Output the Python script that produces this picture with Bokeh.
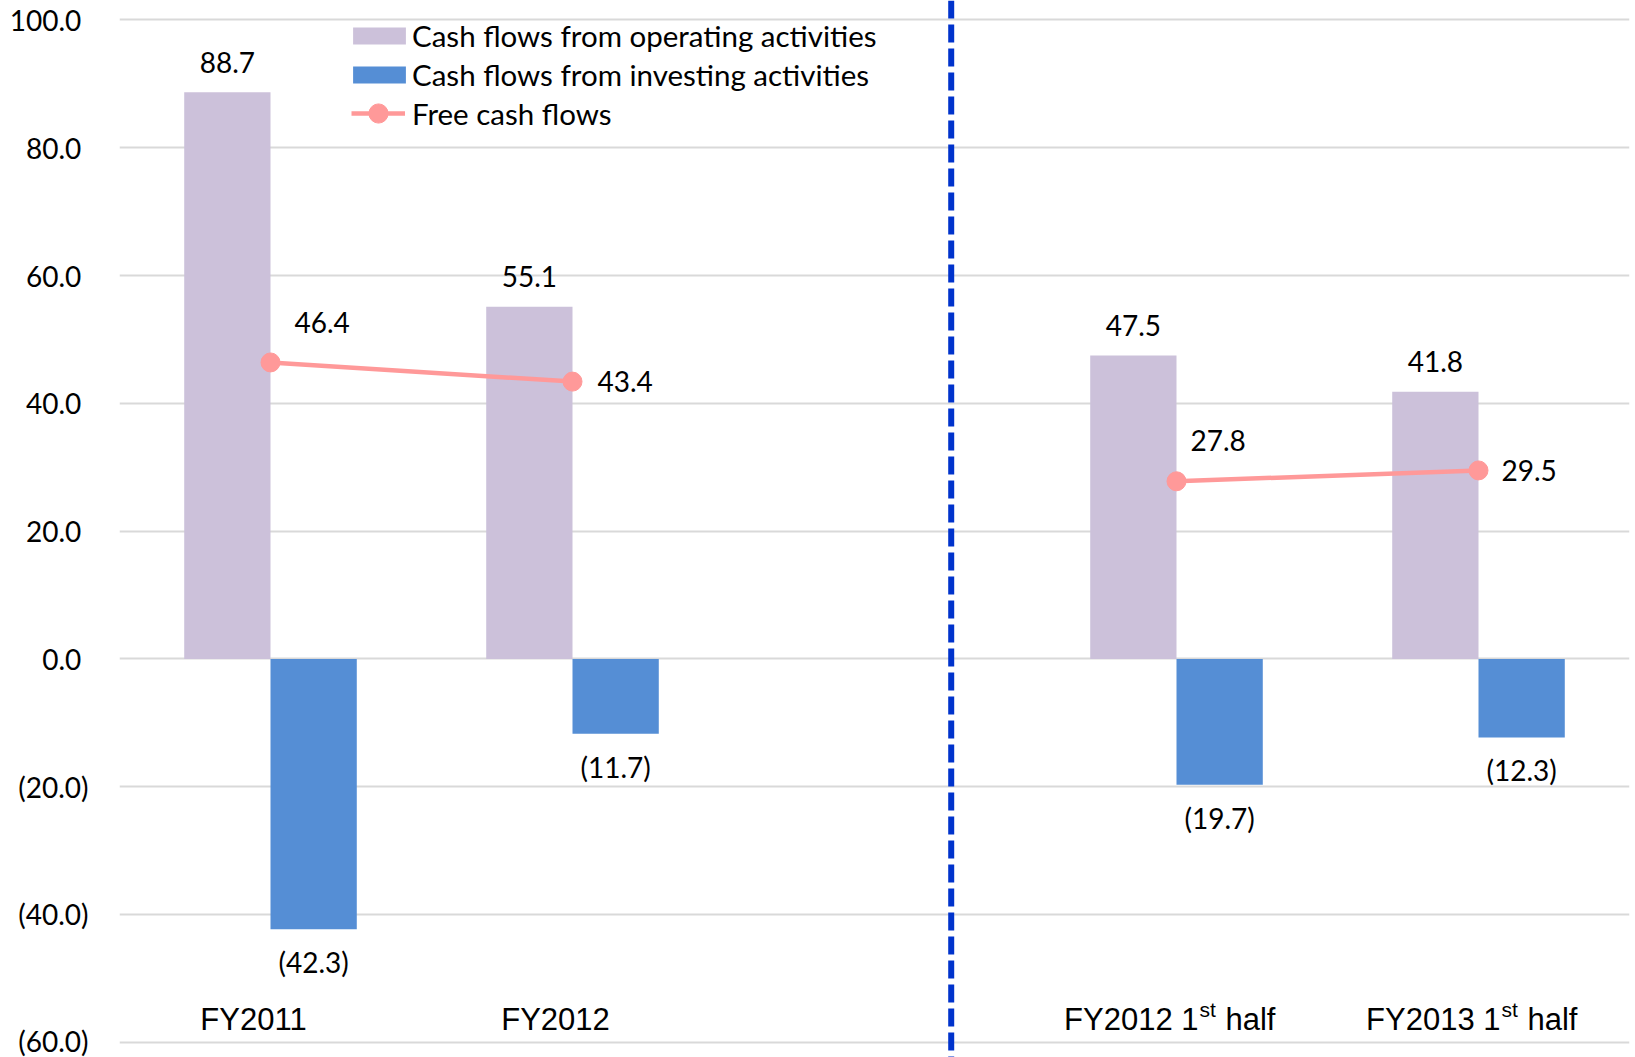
from bokeh.plotting import figure
from bokeh.models import (ColumnDataSource, FactorRange, Range1d, Span, Legend, LegendItem,
                          FixedTicker, CustomJSTickFormatter)
from bokeh.transform import dodge
from bokeh.core.properties import value
from bokeh.embed import file_html
from bokeh.resources import INLINE

# ---- data ----
categories = ["FY2011", "FY2012", "FY2012 1st half", "FY2013 1st half"]
operating = [88.7, 55.1, 47.5, 41.8]
investing = [-42.3, -11.7, -19.7, -12.3]
free_cf = [46.4, 43.4, 27.8, 29.5]
y_ticks = [-60, -40, -20, 0, 20, 40, 60, 80, 100]

# label placement styling (pixels)
fcf_dx = [24, 25, 14, 23]
fcf_dy = [-40, 0, -41, 0]

GAP = "\u2009"
factors = categories[:2] + [GAP] + categories[2:]


def fmt(v):
    return f"({abs(v):.1f})" if v < 0 else f"{v:.1f}"


W, H = 1635, 1057
p = figure(width=W, height=H,
           x_range=FactorRange(factors=factors),
           y_range=Range1d(-62.39, 103.05),
           output_backend="svg", toolbar_location=None, x_axis_location=None,
           min_border_left=119, min_border_right=6, min_border_top=0, min_border_bottom=0)
p.outline_line_color = None
p.background_fill_color = "white"
p.border_fill_color = "white"
p.xgrid.visible = False

ticker = FixedTicker(ticks=y_ticks)
p.yaxis.ticker = ticker
p.ygrid.ticker = ticker
p.ygrid.grid_line_color = "#D9D9D9"
p.ygrid.grid_line_width = 2
p.yaxis.axis_line_color = None
p.yaxis.major_tick_line_color = None
p.yaxis.minor_tick_line_color = None
p.yaxis.major_tick_out = 0
p.yaxis.major_tick_in = 0
p.yaxis.minor_tick_out = 0
p.yaxis.major_label_standoff = 31
p.yaxis.major_label_text_font = "Lato"
p.yaxis.major_label_text_font_size = "28px"
p.yaxis.major_label_text_color = "black"
p.yaxis.formatter = CustomJSTickFormatter(code="""
return tick < 0 ? '(' + Math.abs(tick).toFixed(1) + ')' : tick.toFixed(1) + '\\u00a0';
""")

src = ColumnDataSource(dict(
    cat=categories, op=operating, inv=investing, fcf=free_cf,
    op_lbl=[fmt(v) for v in operating],
    inv_lbl=[fmt(v) for v in investing],
    fcf_lbl=[fmt(v) for v in free_cf],
    fcf_dx=fcf_dx, fcf_dy=fcf_dy,
))

bw = 1 / 3.5
r_op = p.vbar(x=dodge("cat", -bw / 2, range=p.x_range), top="op", bottom=0, width=bw,
              source=src, fill_color="#CCC1DA", line_color=None)
r_inv = p.vbar(x=dodge("cat", bw / 2, range=p.x_range), top="inv", bottom=0, width=bw,
               source=src, fill_color="#558ED5", line_color=None)

PINK = "#FF9999"
line_rs = []
for a, b in [(0, 2), (2, 4)]:
    s = ColumnDataSource(dict(cat=categories[a:b], fcf=free_cf[a:b]))
    line_rs.append(p.line(x="cat", y="fcf", source=s, line_color=PINK, line_width=4.5))
r_pts = p.scatter(x="cat", y="fcf", source=src, size=19, fill_color=PINK, line_color=PINK)

lbl_font = dict(text_font=value("Lato"), text_font_size="28px", text_color="black")
p.text(x=dodge("cat", -bw / 2, range=p.x_range), y="op", text="op_lbl", y_offset=-30,
       text_align="center", text_baseline="middle", source=src, **lbl_font)
p.text(x=dodge("cat", bw / 2, range=p.x_range), y="inv", text="inv_lbl", y_offset=33,
       text_align="center", text_baseline="middle", source=src, **lbl_font)
p.text(x="cat", y="fcf", text="fcf_lbl", x_offset="fcf_dx", y_offset="fcf_dy",
       text_align="left", text_baseline="middle", source=src, **lbl_font)

# category labels
cat_font = dict(text_font=value("Liberation Sans"), text_color="black")
plain = [c for c in categories if "1st" not in c]
sup = [c for c in categories if "1st" in c]
y_base = [y_ticks[0]] * len(plain)
p.text(x=plain, y=y_base, text=plain, x_offset=-17, y_offset=-23,
       text_align="center", text_baseline="alphabetic", text_font_size="31px", **cat_font)
ys = [y_ticks[0]] * len(sup)
main_parts = [c.split("st ")[0] for c in sup]
tail_parts = [c.split("st ")[1] for c in sup]
p.text(x=sup, y=ys, text=main_parts, x_offset=22, y_offset=-23,
       text_align="right", text_baseline="alphabetic", text_font_size="31px", **cat_font)
p.text(x=sup, y=ys, text=["st"] * len(sup), x_offset=23, y_offset=-33,
       text_align="left", text_baseline="alphabetic", text_font_size="21px", **cat_font)
p.text(x=sup, y=ys, text=tail_parts, x_offset=49, y_offset=-23,
       text_align="left", text_baseline="alphabetic", text_font_size="31px", **cat_font)

# divider
p.add_layout(Span(location=2.754, dimension="height", line_color="#0033CC",
                  line_width=6, line_dash="18 6"))

leg_style = dict(padding=0, margin=0, border_line_color=None, background_fill_alpha=0,
                 label_text_font="Lato", label_text_font_size="29.5px",
                 label_text_color="black")
legA = Legend(items=[LegendItem(label="Cash flows from operating activities", renderers=[r_op]),
                     LegendItem(label="Cash flows from investing activities", renderers=[r_inv])],
              location=(227, 965), glyph_width=66, glyph_height=21, label_standoff=0,
              spacing=4, **leg_style)
legB = Legend(items=[LegendItem(label="Free cash flows", renderers=[line_rs[0], r_pts])],
              location=(232, 920), glyph_width=54, glyph_height=48, label_standoff=7,
              **leg_style)
p.add_layout(legA)
p.add_layout(legB)

open("out.html", "w").write(file_html(p, INLINE))
